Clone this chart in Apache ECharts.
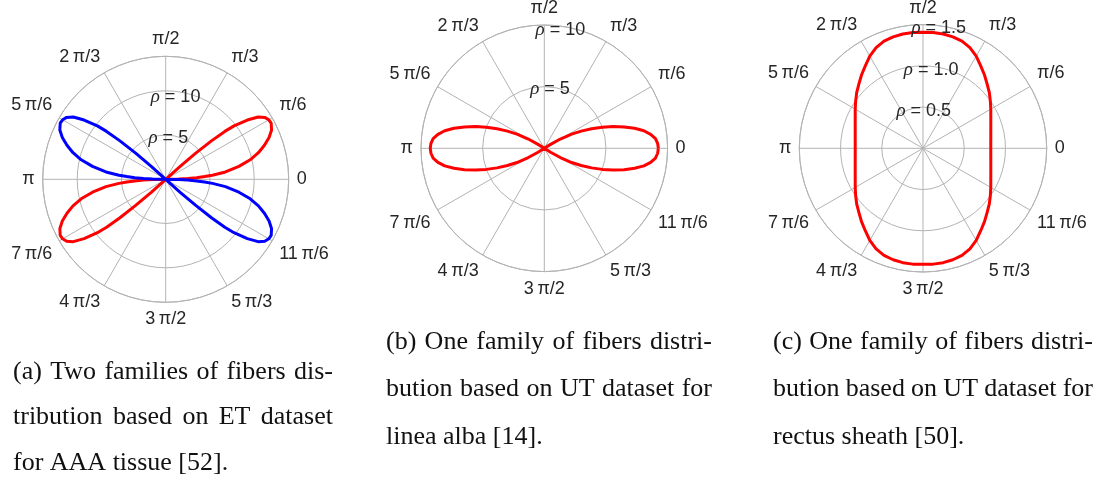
<!DOCTYPE html>
<html>
<head>
<meta charset="utf-8">
<script src="https://cdn.jsdelivr.net/npm/echarts@6/dist/echarts.min.js"></script>
<style>
  html, body { margin: 0; padding: 0; background: #ffffff; }
  #chart { width: 1103px; height: 486px; }
</style>
</head>
<body>
<div id="chart"></div>
<script>
// ---- angle tick labels, one every pi/6 ----
const angleTickLabels = ['0', 'π/6', 'π/3', 'π/2', '2\u2009π/3', '5\u2009π/6', 'π',
  '7\u2009π/6', '4\u2009π/3', '3\u2009π/2', '5\u2009π/3', '11\u2009π/6'];

// ---- (a) two fiber families, AAA tissue (angle in degrees, rho) ----
const aRedAngle = [0, 1, 2, 3, 4, 5, 7, 10, 13, 16, 19, 22, 25, 28, 30, 32, 34, 36, 38, 39, 40, 41, 42, 43,
  180, 181, 182, 183, 184, 185, 187, 190, 193, 196, 199, 202, 205, 208, 210, 212, 214, 216, 218, 219, 220, 221, 222, 223, 360];
const aRedRho = [0, 1.5, 2.5, 3.5, 4.4, 5.3, 6.8, 8.4, 9.8, 10.9, 11.8, 12.6, 13.2, 13.5, 13.45, 13.2, 12.6, 11.4, 9.8, 8.6, 6.8, 4.5, 2.2, 0,
  0, 1.5, 2.5, 3.5, 4.4, 5.3, 6.8, 8.4, 9.8, 10.9, 11.8, 12.6, 13.2, 13.5, 13.45, 13.2, 12.6, 11.4, 9.8, 8.6, 6.8, 4.5, 2.2, 0, 0];
const aBlueAngle = [0, 137, 138, 139, 140, 141, 142, 144, 146, 148, 150, 152, 155, 158, 161, 164, 167, 170, 173, 175, 176, 177, 178, 179, 180,
  317, 318, 319, 320, 321, 322, 324, 326, 328, 330, 332, 335, 338, 341, 344, 347, 350, 353, 355, 356, 357, 358, 359, 360];
const aBlueRho = [0, 0, 2.2, 4.5, 6.8, 8.6, 9.8, 11.4, 12.6, 13.2, 13.45, 13.5, 13.2, 12.6, 11.8, 10.9, 9.8, 8.4, 6.8, 5.3, 4.4, 3.5, 2.5, 1.5, 0,
  0, 2.2, 4.5, 6.8, 8.6, 9.8, 11.4, 12.6, 13.2, 13.45, 13.5, 13.2, 12.6, 11.8, 10.9, 9.8, 8.4, 6.8, 5.3, 4.4, 3.5, 2.5, 1.5, 0];
const aRhoTicks = [5, 10];

// ---- (b) one fiber family, linea alba ----
const bAngle = [0, 2.5, 5, 7.5, 10, 12.5, 15, 17.5, 20, 22.5, 25, 27.5, 30, 32, 34,
  146, 148, 150, 152.5, 155, 157.5, 160, 162.5, 165, 167.5, 170, 172.5, 175, 177.5, 180,
  182.5, 185, 187.5, 190, 192.5, 195, 197.5, 200, 202.5, 205, 207.5, 210, 212, 214,
  326, 328, 330, 332.5, 335, 337.5, 340, 342.5, 345, 347.5, 350, 352.5, 355, 357.5, 360];
const bRho = [9.25, 9.2, 9.05, 8.7, 8.2, 7.5, 6.7, 5.85, 5.0, 4.15, 3.3, 2.5, 1.5, 0.6, 0,
  0, 0.6, 1.5, 2.5, 3.3, 4.15, 5.0, 5.85, 6.7, 7.5, 8.2, 8.7, 9.05, 9.2, 9.25,
  9.2, 9.05, 8.7, 8.2, 7.5, 6.7, 5.85, 5.0, 4.15, 3.3, 2.5, 1.5, 0.6, 0,
  0, 0.6, 1.5, 2.5, 3.3, 4.15, 5.0, 5.85, 6.7, 7.5, 8.2, 8.7, 9.05, 9.2, 9.25];
const bRhoTicks = [5, 10];

// ---- (c) one fiber family, rectus sheath (every 5 degrees) ----
const cAngle = [0, 5, 10, 15, 20, 25, 30, 35, 40, 45, 50, 55, 60, 65, 70, 75, 80, 85, 90,
  95, 100, 105, 110, 115, 120, 125, 130, 135, 140, 145, 150, 155, 160, 165, 170, 175, 180,
  185, 190, 195, 200, 205, 210, 215, 220, 225, 230, 235, 240, 245, 250, 255, 260, 265, 270,
  275, 280, 285, 290, 295, 300, 305, 310, 315, 320, 325, 330, 335, 340, 345, 350, 355, 360];
const cRho = [0.822, 0.825, 0.835, 0.851, 0.875, 0.907, 0.949, 0.997, 1.05, 1.10, 1.16, 1.22, 1.29, 1.346, 1.382, 1.399, 1.408, 1.41, 1.406,
  1.41, 1.408, 1.399, 1.382, 1.346, 1.29, 1.22, 1.16, 1.10, 1.05, 0.997, 0.949, 0.907, 0.875, 0.851, 0.835, 0.825, 0.822,
  0.825, 0.835, 0.851, 0.875, 0.907, 0.949, 0.997, 1.05, 1.10, 1.16, 1.22, 1.29, 1.346, 1.382, 1.399, 1.408, 1.41, 1.406,
  1.41, 1.408, 1.399, 1.382, 1.346, 1.29, 1.22, 1.16, 1.10, 1.05, 0.997, 0.949, 0.907, 0.875, 0.851, 0.835, 0.825, 0.822];
const cRhoTicks = [0.5, 1.0, 1.5];

// ---- captions ----
const captionA = ['(a) Two families of fibers dis-', 'tribution based on ET dataset', 'for AAA tissue [52].'];
const captionB = ['(b) One family of fibers distri-', 'bution based on UT dataset for', 'linea alba [14].'];
const captionC = ['(c) One family of fibers distri-', 'bution based on UT dataset for', 'rectus sheath [50].'];

// ---- layout & style ----
const GRID = '#b3b3b3';
const TEXT = '#262626';
const SANS = '"Liberation Sans", Arial, sans-serif';
const panels = [
  { center: [165.7, 179.3], radius: 123, rMax: 13.9, rStep: 5, ticks: aRhoTicks, digits: 0,
    tickAngle: [86.6, 83.6], tickShift: [2.4, 5.5] },
  { center: [544.3, 148.3], radius: 123.3, rMax: 10, rStep: 5, ticks: bRhoTicks, digits: 0,
    tickAngle: [84.7, 82.5], tickShift: [2.3, 4.3] },
  { center: [923, 148.3], radius: 123.7, rMax: 1.5, rStep: 0.5, ticks: cRhoTicks, digits: 1,
    tickAngle: [89, 84.3, 82.7], tickShift: [3.9, 3.9, 2.7] }
];

const pairs = (rho, ang) => rho.map((r, i) => [r, ang[i]]);

const polar = [], angleAxis = [], radiusAxis = [], series = [];
panels.forEach((p, i) => {
  polar.push({ center: p.center, radius: p.radius });
  angleAxis.push({
    polarIndex: i, type: 'value', min: 0, max: 360, interval: 30,
    startAngle: 0, clockwise: false,
    axisLine: { show: true, lineStyle: { color: GRID, width: 1 } },
    axisTick: { show: false },
    axisLabel: {
      margin: 8, color: TEXT, fontSize: 18, fontFamily: SANS,
      formatter: v => angleTickLabels[Math.round(v / 30)] ?? ''
    },
    splitLine: { show: true, lineStyle: { color: GRID, width: 1 } }
  });
  radiusAxis.push({
    polarIndex: i, type: 'value', min: 0, max: p.rMax, interval: p.rStep,
    axisLine: { show: false }, axisTick: { show: false }, axisLabel: { show: false },
    splitLine: { show: true, lineStyle: { color: GRID, width: 1 } }
  });
  // rho annotations placed on their own circles
  series.push({
    type: 'scatter', coordinateSystem: 'polar', polarIndex: i, silent: true, z: 5,
    symbolSize: 1, itemStyle: { color: 'rgba(255,255,255,0)', opacity: 1 },
    data: p.ticks.map((t, k) => ({
      value: [t, p.tickAngle[k]],
      label: { offset: [0, p.tickShift[k]] }
    })),
    label: {
      show: true, position: 'inside', color: TEXT, opacity: 1,
      textBorderWidth: 0, fontSize: 18, fontFamily: SANS,
      formatter: d => '{r|ρ} = ' + d.value[0].toFixed(p.digits),
      rich: { r: { fontStyle: 'italic', fontFamily: '"Liberation Serif", serif', fontSize: 19, color: TEXT, textBorderWidth: 0 } }
    }
  });
});

const curve = (idx, rho, ang, color) => ({
  type: 'line', coordinateSystem: 'polar', polarIndex: idx, data: pairs(rho, ang),
  showSymbol: false, smooth: false, silent: true, z: 3,
  lineStyle: { color, width: 3, join: 'round' }
});
series.push(curve(0, aRedRho, aRedAngle, '#ff0000'));
series.push(curve(0, aBlueRho, aBlueAngle, '#0000ff'));
series.push(curve(1, bRho, bAngle, '#ff0000'));
series.push(curve(2, cRho, cAngle, '#ff0000'));

// justified caption paragraphs, one text element per word
const CAP_FONT = '26px "Liberation Serif", "Times New Roman", serif';
function caption(lines, left, width, top, lineHeight) {
  const ctx = document.createElement('canvas').getContext('2d');
  ctx.font = CAP_FONT;
  const out = [];
  lines.forEach((line, li) => {
    const y = top + li * lineHeight;
    const words = line.split(' ');
    if (li === lines.length - 1 || words.length < 2) {
      out.push({ type: 'text', x: left, y, style: { text: line, font: CAP_FONT, fill: '#111', verticalAlign: 'middle' } });
      return;
    }
    const w = words.map(s => ctx.measureText(s).width);
    const gap = (width - w.reduce((a, b) => a + b, 0)) / (words.length - 1);
    let x = left;
    words.forEach((s, k) => {
      out.push({ type: 'text', x, y, style: { text: s, font: CAP_FONT, fill: '#111', verticalAlign: 'middle' } });
      x += w[k] + gap;
    });
  });
  return out;
}

const chart = echarts.init(document.getElementById('chart'), null, { renderer: 'canvas' });
chart.setOption({
  backgroundColor: '#ffffff',
  animation: false,
  polar, angleAxis, radiusAxis, series,
  graphic: [].concat(
    caption(captionA, 13, 320, 372, 45.5),
    caption(captionB, 386, 326, 342, 47.5),
    caption(captionC, 773, 320, 342, 47.5)
  )
});
</script>
</body>
</html>
